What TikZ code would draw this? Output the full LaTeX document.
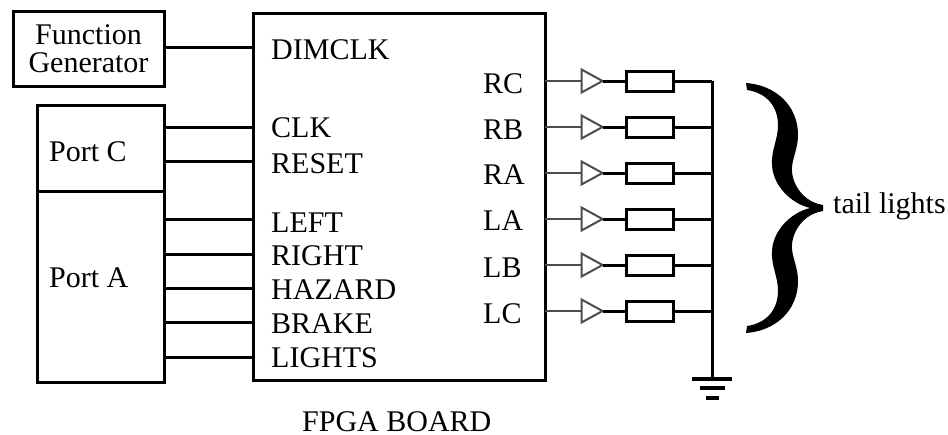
\documentclass[tikz,border=0pt]{standalone}
\usepackage{fontspec}
\setmainfont{Liberation Serif}
\usetikzlibrary{shapes.geometric}
\definecolor{ThinClr}{gray}{0.3}
\tikzset{
  boxnode/.style={draw,line width=3pt,rectangle,inner sep=0pt,outer sep=0pt,anchor=north west},
  lampnode/.style={draw,line width=3pt,rectangle,inner sep=0pt,outer sep=0pt,minimum width=47pt,minimum height=20pt},
  buffnode/.style={draw=ThinClr,line width=2pt,isosceles triangle,isosceles triangle stretches,inner sep=0pt,outer sep=0pt,minimum width=23pt,minimum height=21pt,anchor=lower side},
  txtnode/.style={font=\fontsize{30}{28}\selectfont,inner sep=0pt,anchor=base west},
  wirethick/.style={line width=3pt},
  wirethin/.style={line width=2pt,color=ThinClr},
}
\begin{document}
\begin{tikzpicture}[x=1pt,y=-1pt]
\useasboundingbox (0,0) rectangle (948,434);

\node[boxnode,minimum width=151pt,minimum height=75pt,align=center,font=\fontsize{30}{28}\selectfont] (fgen) at (13,11) {Function\\Generator};
\node[boxnode,minimum width=127pt,minimum height=86pt] (portC) at (37,105) {};
\node[boxnode,minimum width=127pt,minimum height=191pt] (portA) at (37,191) {};
\node[boxnode,minimum width=292pt,minimum height=367pt] (fpga) at (253,13) {};

\node[txtnode] (portCtxt) at (49,161) {Port C};
\node[txtnode] (portAtxt) at (49,287) {Port A};
\node[txtnode] (fpgatxt) at (302,431) {FPGA BOARD};

% inputs on the left side
\node[txtnode] (DIMCLK) at (271,59) {DIMCLK};
\draw[wirethick] (fgen.east |- 0,47) -- (fpga.west |- 0,47);

\foreach \pin/\src/\y/\base in {CLK/portC/127/137,RESET/portC/161/173,LEFT/portA/219/232,RIGHT/portA/254/265,HAZARD/portA/288/299,BRAKE/portA/322/333,LIGHTS/portA/357/367}{
  \node[txtnode] (\pin) at (271,\base) {\pin};
  \draw[wirethick] (\src.east |- 0,\y) -- (fpga.west |- 0,\y);
}

\coordinate (busTop) at (712,81);
\coordinate (gnd) at (712,379);

% outputs on the right side
\foreach \pin/\y/\base in {RC/81/93,RB/127/139,RA/173/184,LA/219/230,LB/265/277,LC/311/323}{
  \node[txtnode] (\pin) at (483,\base) {\pin};
  \node[buffnode] (buf\pin) at (581.5,\y) {};
  \node[lampnode] (lamp\pin) at (649.5,\y) {};
  \draw[wirethin] (fpga.east |- 0,\y) -- (buf\pin.lower side);
  \draw[wirethick] (buf\pin.apex) -- (lamp\pin.west);
  \draw[wirethick] (lamp\pin.east) -- (busTop |- lamp\pin.east);
}

\draw[wirethick] (busTop) -- (gnd);
\draw[line width=4pt] ([xshift=-20pt]gnd) -- ([xshift=20pt]gnd);
\draw[line width=4pt] ([xshift=-12pt,yshift=-9pt]gnd) -- ([xshift=13pt,yshift=-9pt]gnd);
\draw[line width=4pt] ([xshift=-6pt,yshift=-19pt]gnd) -- ([xshift=7pt,yshift=-19pt]gnd);

% brace
\fill (746,83) .. controls (775,85) and (798,105) .. (798,135)
  .. controls (798,150) and (791,160) .. (792,172)
  .. controls (794,190) and (808,203) .. (823,205) -- (823,211)
  .. controls (808,213) and (794,226) .. (792,244)
  .. controls (791,256) and (798,266) .. (798,281)
  .. controls (798,311) and (775,331) .. (746,333) -- (747,326)
  .. controls (768,323) and (778,308) .. (778,291)
  .. controls (778,276) and (771,266) .. (772,251)
  .. controls (773,231) and (790,213) .. (810,208)
  .. controls (790,203) and (773,185) .. (772,165)
  .. controls (771,150) and (778,140) .. (778,125)
  .. controls (778,108) and (768,93) .. (747,90) -- cycle;
\node[txtnode] (taillights) at (833,213) {tail lights};

\end{tikzpicture}
\end{document}
